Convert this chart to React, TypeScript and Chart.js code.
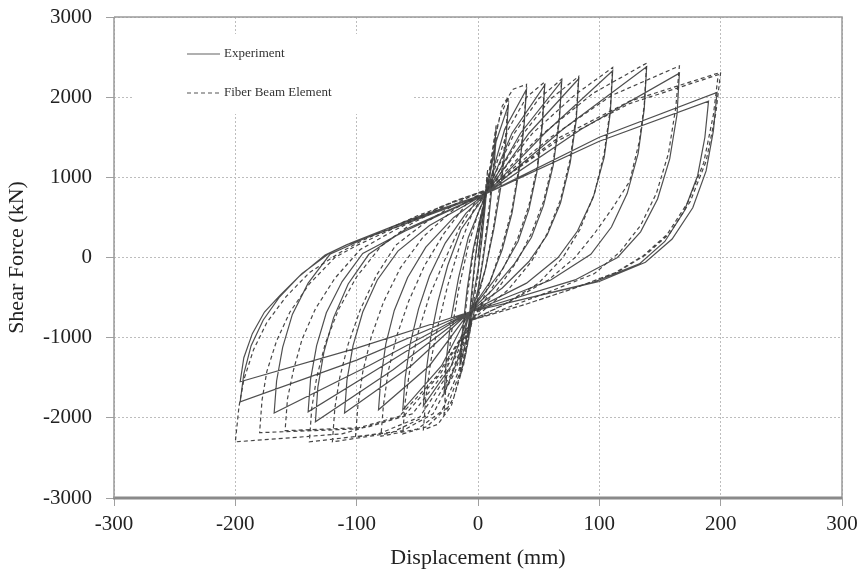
import React, { useEffect, useRef } from "react";
import { Chart, registerables } from "chart.js";

Chart.register(...registerables);

const xTicks = [-300, -200, -100, 0, 100, 200, 300];
const yTicks = [-3000, -2000, -1000, 0, 1000, 2000, 3000];
const seriesNames = ["Experiment", "Fiber Beam Element"];
const xTitle = "Displacement (mm)";
const yTitle = "Shear Force (kN)";

// Experiment: displacement (mm), shear force (kN), cycle by cycle
const experimentPoints: [number, number][] = [
  [0, 0], [4, 500], [8, 1000], [6, 650], [3, 200], [0, -150], [-4, -500], [-8, -900], [-6, -550], [-3, -100], [0, 250], [4, 600],
  [8, 900], [15, 1500], [13, 1100], [9, 500], [4, -50], [0, -400], [-5, -700], [-10, -1050], [-15, -1350], [-13, -950], [-9, -400], [-4, 100], [2, 500], [7, 800],
  [15, 1450], [25, 1900], [23, 1450], [19, 900], [13, 350], [6, -150], [0, -450], [-7, -680], [-16, -1250], [-28, -1700], [-26, -1250], [-22, -750], [-16, -250], [-8, 250], [0, 550], [7, 800],
  [22, 1600], [40, 2100], [38, 1650], [34, 1100], [28, 550], [20, 100], [10, -300], [-7, -680], [-22, -1350], [-45, -1850], [-43, -1450], [-39, -1000], [-33, -550], [-25, -100], [-14, 350], [7, 800],
  [28, 1550], [55, 2150], [53, 1650], [49, 1100], [42, 600], [33, 200], [20, -150], [5, -450], [-7, -680], [-30, -1350], [-62, -1900], [-60, -1500], [-56, -1080], [-49, -640], [-40, -230], [-27, 180], [-10, 550], [7, 800],
  [35, 1550], [69, 2200], [67, 1700], [62, 1150], [54, 650], [44, 250], [30, -80], [12, -400], [-7, -680], [-40, -1350], [-82, -1900], [-80, -1500], [-76, -1080], [-69, -660], [-58, -250], [-43, 130], [-20, 500], [7, 800],
  [42, 1550], [83, 2230], [81, 1720], [76, 1180], [68, 680], [57, 280], [42, -50], [20, -380], [-7, -680], [-55, -1350], [-110, -1940], [-108, -1530], [-103, -1100], [-95, -680], [-83, -280], [-66, 80], [-40, 400], [7, 800],
  [55, 1550], [111, 2330], [109, 1800], [104, 1250], [95, 750], [82, 330], [66, 0], [40, -320], [-7, -680], [-70, -1400], [-134, -2050], [-132, -1620], [-127, -1180], [-119, -750], [-107, -330], [-90, 40], [-60, 350], [7, 800],
  [70, 1600], [139, 2380], [137, 1850], [132, 1300], [123, 800], [110, 380], [93, 40], [60, -280], [-7, -680], [-75, -1320], [-140, -1925], [-138, -1520], [-133, -1100], [-125, -690], [-112, -300], [-95, 50], [-60, 330], [7, 800],
  [85, 1600], [166, 2300], [164, 1780], [158, 1230], [148, 730], [134, 320], [115, 0], [80, -280], [-7, -680], [-90, -1350], [-168, -1940], [-166, -1540], [-161, -1120], [-153, -710], [-140, -320], [-122, 40], [-80, 330], [7, 800],
  [100, 1500], [197, 2060], [194, 1580], [188, 1080], [177, 620], [160, 230], [138, -60], [100, -300], [-7, -680], [-100, -1280], [-196, -1800], [-193, -1450], [-187, -1100], [-177, -780], [-164, -500], [-147, -230], [-126, 30], [-108, 160], [-60, 420], [7, 800],
  [100, 1450], [190, 1950], [187, 1500], [181, 1020], [170, 580], [154, 200], [133, -80], [95, -310], [-7, -680], [-100, -1130], [-196, -1550], [-193, -1250], [-186, -950], [-176, -680], [-163, -470], [-145, -200], [-122, 60], [-105, 180], [-55, 480], [7, 800],
];

// Fiber beam element model: displacement (mm), shear force (kN)
const fiberBeamPoints: [number, number][] = [
  [0, 0], [4, 550], [8, 1100], [6, 750], [3, 250], [0, -200], [-4, -600], [-8, -1000], [-6, -650], [-3, -150], [0, 250], [4, 650],
  [8, 950], [15, 1650], [13, 1200], [9, 600], [4, 0], [0, -450], [-5, -800], [-10, -1200], [-15, -1500], [-13, -1050], [-9, -500], [-4, 50], [2, 500], [8, 850],
  [12, 1350], [18, 1750], [25, 2000], [23, 1550], [19, 1000], [13, 400], [6, -150], [0, -500], [-5, -780], [-12, -1300], [-20, -1750], [-28, -1950], [-26, -1500], [-22, -950], [-16, -400], [-8, 150], [0, 550], [8, 850],
  [14, 1500], [20, 1890], [29, 2100], [40, 2160], [38, 1700], [34, 1150], [28, 600], [20, 150], [10, -300], [2, -600], [-5, -780], [-12, -1350], [-22, -1850], [-33, -2080], [-45, -2150], [-43, -1750], [-39, -1300], [-33, -850], [-25, -350], [-15, 150], [-4, 580], [8, 850],
  [25, 1600], [40, 2000], [55, 2190], [53, 1700], [49, 1150], [42, 650], [33, 250], [22, -100], [8, -480], [-5, -780], [-14, -1400], [-26, -1880], [-42, -2110], [-62, -2200], [-60, -1800], [-56, -1380], [-49, -920], [-40, -480], [-28, -50], [-15, 380], [-2, 700], [8, 850],
  [30, 1550], [50, 1980], [69, 2225], [67, 1750], [62, 1200], [54, 700], [44, 300], [32, -50], [15, -420], [-5, -780], [-16, -1420], [-30, -1920], [-50, -2140], [-80, -2230], [-78, -1850], [-74, -1420], [-67, -980], [-57, -540], [-44, -100], [-28, 300], [-10, 660], [8, 850],
  [35, 1500], [60, 1980], [83, 2260], [81, 1780], [76, 1230], [68, 720], [57, 300], [44, -50], [25, -400], [-5, -780], [-19, -1430], [-37, -1950], [-62, -2160], [-101, -2240], [-99, -1850], [-95, -1430], [-88, -990], [-78, -560], [-64, -130], [-45, 260], [-20, 600], [8, 850],
  [45, 1550], [80, 2030], [111, 2370], [109, 1850], [104, 1300], [96, 800], [84, 350], [70, 0], [50, -320], [20, -600], [-5, -780], [-22, -1450], [-42, -1970], [-72, -2190], [-120, -2300], [-118, -1880], [-114, -1500], [-107, -1080], [-97, -650], [-84, -230], [-68, 150], [-45, 420], [-15, 700], [8, 850],
  [50, 1500], [95, 2050], [139, 2425], [137, 1900], [133, 1450], [125, 950], [111, 620], [96, 300], [80, 0], [58, -280], [25, -560], [-5, -780], [-25, -1460], [-48, -1990], [-82, -2200], [-139, -2300], [-137, -1880], [-133, -1500], [-126, -1080], [-115, -650], [-100, -240], [-80, 140], [-55, 420], [-20, 700], [8, 850],
  [60, 1500], [110, 2020], [166, 2390], [163, 1870], [157, 1300], [147, 800], [134, 400], [117, 70], [96, -200], [60, -420], [20, -650], [-5, -780], [-28, -1440], [-54, -1950], [-92, -2120], [-159, -2160], [-157, -1760], [-152, -1400], [-145, -1020], [-134, -640], [-118, -260], [-97, 100], [-70, 330], [-30, 640], [8, 850],
  [65, 1480], [125, 1950], [200, 2310], [196, 1800], [188, 1200], [175, 700], [158, 300], [138, 30], [115, -180], [80, -380], [40, -580], [-5, -780], [-31, -1450], [-60, -1960], [-102, -2140], [-180, -2185], [-178, -1780], [-174, -1420], [-166, -1040], [-155, -680], [-139, -330], [-118, 0], [-100, 150], [-60, 430], [-20, 700], [8, 850],
  [65, 1450], [125, 1920], [198, 2280], [194, 1780], [186, 1180], [173, 690], [156, 290], [136, 20], [113, -190], [78, -390], [38, -590], [-5, -780], [-34, -1480], [-66, -2000], [-112, -2200], [-200, -2300], [-197, -1860], [-193, -1525], [-185, -1150], [-174, -810], [-158, -485], [-139, -190], [-114, 60], [-97, 200], [-50, 520], [8, 850],
];

const FONT = "'Liberation Serif', 'Times New Roman', Times, serif";

const frameAndLegend = {
  id: "frameAndLegend",
  beforeDatasetsDraw(chart: any) {
    const { ctx, chartArea } = chart;
    const { left, top } = chartArea;
    ctx.save();
    const bx = left + 19;
    const by = top + 17;
    ctx.fillStyle = "#ffffff";
    ctx.fillRect(bx, by, 280, 80);
    ctx.font = `13px ${FONT}`;
    ctx.fillStyle = "#333";
    ctx.textBaseline = "middle";
    ctx.textAlign = "left";
    const lx0 = left + 73;
    const lx1 = left + 106;
    const y1 = top + 37;
    const y2 = top + 76;
    ctx.strokeStyle = "#b0b0b0";
    ctx.lineWidth = 2;
    ctx.setLineDash([]);
    ctx.beginPath();
    ctx.moveTo(lx0, y1);
    ctx.lineTo(lx1, y1);
    ctx.stroke();
    ctx.fillText(seriesNames[0], lx1 + 4, y1);
    ctx.strokeStyle = "#555";
    ctx.lineWidth = 1.2;
    ctx.setLineDash([4, 3]);
    ctx.beginPath();
    ctx.moveTo(lx0, y2);
    ctx.lineTo(lx1, y2);
    ctx.stroke();
    ctx.setLineDash([]);
    ctx.fillText(seriesNames[1], lx1 + 4, y2);
    ctx.restore();
  },
  afterDraw(chart: any) {
    const { ctx, chartArea } = chart;
    const { left, top, right, bottom } = chartArea;
    ctx.save();
    ctx.setLineDash([]);
    ctx.strokeStyle = "#9a9a9a";
    ctx.lineWidth = 1.5;
    ctx.beginPath();
    ctx.moveTo(left, top);
    ctx.lineTo(right, top);
    ctx.lineTo(right, bottom);
    ctx.stroke();
    ctx.strokeStyle = "#8a8a8a";
    ctx.lineWidth = 3;
    ctx.beginPath();
    ctx.moveTo(left - 1, bottom);
    ctx.lineTo(right, bottom);
    ctx.stroke();
    ctx.strokeStyle = "#9a9a9a";
    ctx.lineWidth = 1.5;
    ctx.beginPath();
    ctx.moveTo(left, top);
    ctx.lineTo(left, bottom);
    ctx.stroke();
    ctx.restore();
  },
};

const whiteBg = {
  id: "whiteBg",
  beforeDraw(chart: any) {
    const ctx = chart.ctx;
    ctx.save();
    ctx.fillStyle = "#fff";
    ctx.fillRect(0, 0, chart.width, chart.height);
    ctx.restore();
  },
};

export default function App() {
  const ref = useRef<HTMLCanvasElement | null>(null);
  useEffect(() => {
    document.body.style.margin = "0";
    const canvas = ref.current!;
    const chart = new Chart(canvas, {
      type: "scatter",
      data: {
        datasets: [
          {
            label: seriesNames[0],
            data: experimentPoints.map(([x, y]) => ({ x, y })),
            showLine: true,
            borderColor: "rgba(60,60,60,0.9)",
            borderWidth: 1.2,
            pointRadius: 0,
            tension: 0,
          },
          {
            label: seriesNames[1],
            data: fiberBeamPoints.map(([x, y]) => ({ x, y })),
            showLine: true,
            borderColor: "rgba(50,50,50,0.9)",
            borderWidth: 1.2,
            borderDash: [4, 3],
            pointRadius: 0,
            tension: 0,
          },
        ],
      },
      options: {
        responsive: false,
        animation: false,
        devicePixelRatio: 1,
        layout: { padding: { top: 17, right: 23, left: 0, bottom: 0 } },
        plugins: { legend: { display: false }, tooltip: { enabled: false } },
        scales: {
          x: {
            type: "linear",
            min: -300,
            max: 300,
            afterBuildTicks: (s: any) => {
              s.ticks = xTicks.map((v) => ({ value: v }));
            },
            afterFit: (s: any) => {
              s.height = 78;
              s.paddingLeft = 0;
              s.paddingRight = 0;
            },
            ticks: {
              callback: (v: any) => String(v),
              font: { family: FONT, size: 21 },
              color: "#222",
              padding: 6,
              maxRotation: 0,
            },
            grid: {
              color: "#bdbdbd",
              lineWidth: 1,
              tickLength: 8,
              tickColor: "#a0a0a0",
            },
            border: { display: false, dash: [2, 2] },
            title: {
              display: true,
              text: xTitle,
              font: { family: FONT, size: 22 },
              color: "#222",
              padding: { top: 0, bottom: 5 },
            },
          },
          y: {
            type: "linear",
            min: -3000,
            max: 3000,
            afterBuildTicks: (s: any) => {
              s.ticks = yTicks.map((v) => ({ value: v }));
            },
            afterFit: (s: any) => {
              s.width = 114;
              s.paddingTop = 0;
              s.paddingBottom = 0;
            },
            ticks: {
              callback: (v: any) => String(v),
              font: { family: FONT, size: 21 },
              color: "#222",
              padding: 14,
            },
            grid: {
              color: "#bdbdbd",
              lineWidth: 1,
              tickLength: 8,
              tickColor: "#a0a0a0",
            },
            border: { display: false, dash: [2, 2] },
            title: {
              display: true,
              text: yTitle,
              font: { family: FONT, size: 22 },
              color: "#222",
              padding: { top: 4, bottom: 0 },
            },
          },
        },
      },
      plugins: [whiteBg, frameAndLegend],
    } as any);
    return () => chart.destroy();
  }, []);
  return (
    <div style={{ width: 865, height: 576 }}>
      <canvas ref={ref} width={865} height={576} style={{ display: "block" }} />
    </div>
  );
}
